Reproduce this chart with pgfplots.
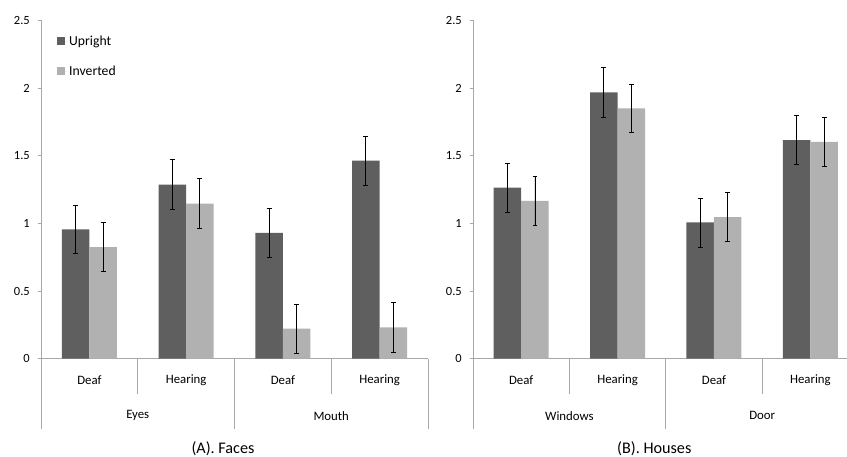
\documentclass[border=0pt]{standalone}
\usepackage{pgfplots}
\pgfplotsset{compat=1.18}
\usepackage{fontspec}
\setmainfont{Carlito}
\definecolor{upc}{HTML}{5F5F5F}
\definecolor{inc}{HTML}{B1B1B1}
\definecolor{axc}{HTML}{A8A8A8}
\pgfplotsset{
  panel/.style={
    scale only axis, height=338.3pt,
    ymin=0, ymax=2.5, xmin=-0.5,
    ybar=0pt, bar width=27.5pt,
    axis lines=left,
    axis line style={draw=axc, line width=0.9pt, -},
    xtick=\empty,
    ytick={0,0.5,1,1.5,2,2.5},
    yticklabels={0,0.5,1,1.5,2,2.5},
    tick align=outside,
    major tick length=3pt,
    y tick style={draw=axc, line width=0.9pt},
    yticklabel style={font=\fontsize{12.5}{14}\selectfont, inner sep=0pt, xshift=-8pt},
    clip=false,
    error bars/y dir=both, error bars/y explicit,
    error bars/error bar style={black, line width=0.8pt},
    error bars/error mark options={rotate=90, mark size=2.4pt, black, line width=0.8pt},
  },
}
\tikzset{
  sep/.style={draw=axc, line width=0.9pt},
  cat/.style={font=\fontsize{12.8}{14}\selectfont},
  ttl/.style={font=\fontsize{16.2}{18}\selectfont},
}
\begin{document}
\begin{tikzpicture}
\useasboundingbox (0,0) rectangle (847pt,-456pt);
% ---------- (A) Faces
\begin{axis}[panel, at={(41pt,-358.7pt)}, anchor=south west,
  width=387pt, xmax=3.5,
  legend style={at={(rel axis cs:0,1)}, anchor=north west, xshift=14pt, yshift=-11pt,
    draw=none, fill=none, font=\fontsize{13.7}{16}\selectfont, row sep=15pt,
    legend cell align=left, inner sep=2pt},
  legend image code/.code={\fill[#1] (0pt,-3.8pt) rectangle (7.6pt,3.8pt);
    \path (0pt,0pt) -- (10pt,0pt);},
]
\addplot[fill=upc, draw=none] coordinates {
  (0,0.955) +- (0,0.180)
  (1,1.287) +- (0,0.183)
  (2,0.929) +- (0,0.181)
  (3,1.464) +- (0,0.182)
};
\addplot[fill=inc, draw=none] coordinates {
  (0,0.825) +- (0,0.181)
  (1,1.146) +- (0,0.183)
  (2,0.222) +- (0,0.181)
  (3,0.232) +- (0,0.183)
};
\legend{Upright, Inverted}
\draw[sep] (axis cs:-0.5,0) -- ([yshift=-70pt]axis cs:-0.5,0);
\draw[sep] (axis cs:0.5,0) -- ([yshift=-35pt]axis cs:0.5,0);
\draw[sep] (axis cs:1.5,0) -- ([yshift=-70pt]axis cs:1.5,0);
\draw[sep] (axis cs:2.5,0) -- ([yshift=-35pt]axis cs:2.5,0);
\draw[sep] (axis cs:3.5,0) -- ([yshift=-70pt]axis cs:3.5,0);
\node[cat] at ([yshift=-21pt]axis cs:0,0) {Deaf};
\node[cat] at ([yshift=-21pt]axis cs:1,0) {Hearing};
\node[cat] at ([yshift=-21pt]axis cs:2,0) {Deaf};
\node[cat] at ([yshift=-21pt]axis cs:3,0) {Hearing};
\node[cat] at ([yshift=-57pt]axis cs:0.5,0) {Eyes};
\node[cat] at ([yshift=-57pt]axis cs:2.5,0) {Mouth};
\node[ttl] at ([yshift=-90pt,xshift=-11.5pt]axis cs:1.5,0) {(A). Faces};
\end{axis}
% ---------- (B) Houses
\begin{axis}[panel, at={(473pt,-358.7pt)}, anchor=south west,
  width=374pt, xmax=3.38]
\addplot[fill=upc, draw=none] coordinates {
  (0,1.264) +- (0,0.180)
  (1,1.968) +- (0,0.182)
  (2,1.007) +- (0,0.181)
  (3,1.615) +- (0,0.182)
};
\addplot[fill=inc, draw=none] coordinates {
  (0,1.166) +- (0,0.181)
  (1,1.850) +- (0,0.180)
  (2,1.047) +- (0,0.181)
  (3,1.603) +- (0,0.181)
};
\draw[sep] (axis cs:-0.5,0) -- ([yshift=-70pt]axis cs:-0.5,0);
\draw[sep] (axis cs:0.5,0) -- ([yshift=-35pt]axis cs:0.5,0);
\draw[sep] (axis cs:1.5,0) -- ([yshift=-70pt]axis cs:1.5,0);
\draw[sep] (axis cs:2.5,0) -- ([yshift=-35pt]axis cs:2.5,0);
\node[cat] at ([yshift=-21pt]axis cs:0,0) {Deaf};
\node[cat] at ([yshift=-21pt]axis cs:1,0) {Hearing};
\node[cat] at ([yshift=-21pt]axis cs:2,0) {Deaf};
\node[cat] at ([yshift=-21pt]axis cs:3,0) {Hearing};
\node[cat] at ([yshift=-57pt]axis cs:0.5,0) {Windows};
\node[cat] at ([yshift=-57pt]axis cs:2.5,0) {Door};
\node[ttl] at ([yshift=-90pt,xshift=-11.5pt]axis cs:1.5,0) {(B). Houses};
\end{axis}
\end{tikzpicture}
\end{document}
